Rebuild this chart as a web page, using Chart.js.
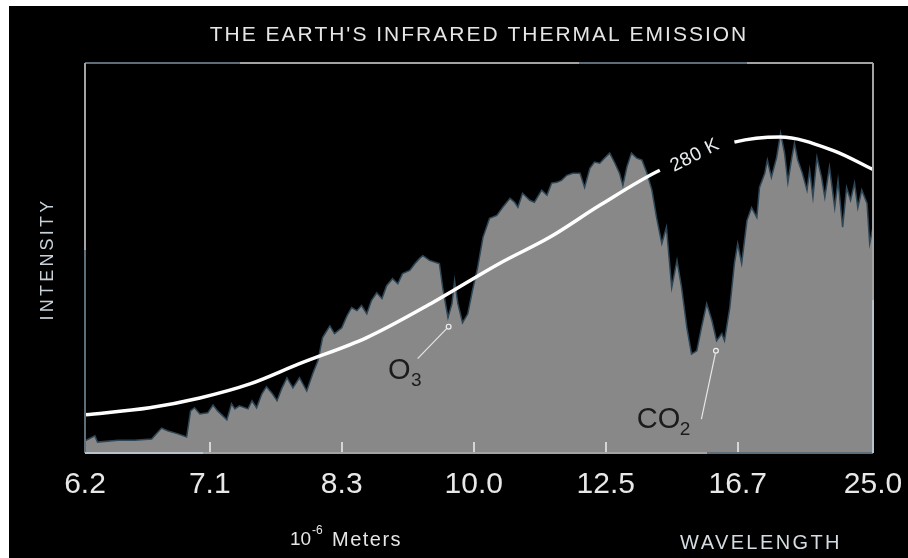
<!DOCTYPE html>
<html>
<head>
<meta charset="utf-8">
<script src="https://cdn.jsdelivr.net/npm/chart.js@4.4.0/dist/chart.umd.min.js"></script>
<style>
  html, body { margin: 0; padding: 0; background: #fff; }
  canvas { display: block; }
</style>
</head>
<body>
<canvas id="chart" width="908" height="558"></canvas>
<script>
// x axis is linear in wavenumber (cm^-1), labelled in wavelength (micrometres)
const tickWavenumbers = [1589, 1400, 1200, 1000, 800, 600, 395];
const tickLabels = ['6.2', '7.1', '8.3', '10.0', '12.5', '16.7', '25.0'];

const specWavenumber = [
  1589, 1574, 1570, 1539, 1514, 1488, 1473, 1464, 1448, 1435, 1429, 1423, 1415, 1403, 1395, 1388,
  1374, 1367, 1362, 1355, 1342, 1336, 1329, 1321, 1314, 1306, 1298, 1291, 1283, 1274, 1264, 1253,
  1244, 1236, 1229, 1218, 1211, 1200, 1192, 1185, 1177, 1170, 1162, 1155, 1147, 1139, 1132, 1123,
  1115, 1108, 1097, 1089, 1082, 1077, 1067, 1056, 1052, 1047, 1039, 1033, 1029, 1024, 1017, 1009,
  1002, 994, 986, 976, 965, 956, 945, 938, 933, 926, 915, 908, 897, 889, 882, 874,
  867, 859, 850, 839, 832, 824, 817, 809, 802, 794, 786, 779, 774, 768, 761, 753,
  745, 738, 730, 723, 715, 708, 700, 692, 685, 677, 670, 662, 655, 647, 639, 632,
  624, 620, 612, 605, 600, 594, 586, 579, 571, 567, 559, 555, 549, 541, 535, 529,
  524, 518, 514, 509, 502, 495, 491, 486, 480, 473, 468, 461, 453, 448, 441, 435,
  429, 423, 418, 412, 404, 400, 395
];
const specIntensity = [
  3.1, 4.4, 2.8, 3.3, 3.3, 3.6, 6.4, 5.7, 4.9, 4.1, 10.8, 11.6, 10.0, 10.3, 12.3, 10.8,
  8.5, 12.6, 11.3, 12.1, 11.3, 13.4, 11.6, 15.2, 17.0, 15.4, 13.4, 16.5, 19.3, 16.7, 19.3, 15.9,
  20.3, 23.7, 29.6, 32.6, 30.6, 32.1, 35.2, 37.3, 36.5, 37.8, 35.7, 39.1, 41.1, 39.6, 42.9, 44.7,
  43.4, 46.0, 46.8, 48.6, 49.9, 50.6, 49.4, 48.8, 48.6, 42.4, 34.7, 38.3, 44.2, 38.3, 33.4, 35.7,
  41.6, 47.6, 55.3, 60.2, 60.9, 63.0, 65.3, 64.3, 63.0, 66.6, 64.8, 64.3, 67.4, 66.1, 69.2, 69.4,
  69.9, 71.2, 71.7, 71.7, 68.1, 73.0, 74.6, 74.3, 75.6, 76.9, 74.3, 71.7, 68.6, 73.3, 76.9, 75.6,
  75.1, 72.0, 67.4, 60.4, 53.7, 57.9, 42.4, 49.4, 42.4, 32.1, 25.4, 26.2, 32.1, 38.3, 33.9, 28.8,
  30.6, 28.8, 37.3, 48.6, 53.7, 48.6, 59.6, 62.9, 60.4, 68.1, 71.7, 75.1, 70.7, 75.8, 82.0, 76.9,
  69.4, 75.8, 79.4, 75.1, 71.7, 67.4, 72.5, 65.6, 75.8, 70.7, 65.6, 73.3, 62.9, 69.9, 57.9, 68.1,
  64.8, 69.2, 62.9, 67.4, 64.0, 53.7, 57.9
];

// 280 K blackbody curve
const curveWavenumber = [1589, 1491, 1415, 1339, 1264, 1162, 1062, 961, 885, 809, 718, 605, 536, 456, 395];
const curveIntensity  = [9.8, 11.6, 14.1, 17.7, 22.9, 29.6, 38.6, 48.6, 55.3, 63.5, 72.5, 79.7, 81.0, 77.6, 72.7];
const curveGap = [605, 718]; // where the "280 K" label sits

const toPoints = (xs, ys) => xs.map((x, i) => ({ x: x, y: ys[i] }));

function drawText(ctx, txt, x, y, font, color, align, spacing) {
  ctx.font = font;
  ctx.fillStyle = color;
  ctx.textAlign = align || 'left';
  ctx.letterSpacing = (spacing || 0) + 'px';
  ctx.fillText(txt, x, y);
  ctx.letterSpacing = '0px';
}

const decorations = {
  id: 'decorations',
  beforeDraw(chart) {
    const ctx = chart.ctx;
    ctx.save();
    ctx.fillStyle = '#fff';
    ctx.fillRect(0, 0, chart.width, chart.height);
    ctx.fillStyle = '#000';
    ctx.fillRect(9, 6, chart.width - 9, chart.height - 6);
    ctx.restore();
  },
  afterDatasetsDraw(chart) {
    const ctx = chart.ctx;
    const a = chart.chartArea;
    const xs = chart.scales.x, ys = chart.scales.y;
    const blue = '#5d6d79', gray = '#a3a3a3', light = '#b9c3cb';
    ctx.save();
    ctx.lineWidth = 2;
    const seg = (x1, y1, x2, y2, c) => {
      ctx.strokeStyle = c;
      ctx.beginPath(); ctx.moveTo(x1, y1); ctx.lineTo(x2, y2); ctx.stroke();
    };
    // frame
    seg(a.left, a.top, 240, a.top, blue);
    seg(240, a.top, 579, a.top, gray);
    seg(579, a.top, 747, a.top, blue);
    seg(747, a.top, a.right, a.top, gray);
    seg(a.left, a.top, a.left, 250, gray);
    seg(a.left, 250, a.left, a.bottom, blue);
    seg(a.left, a.bottom, 203, a.bottom, light);
    seg(203, a.bottom, 707, a.bottom, gray);
    seg(707, a.bottom, a.right, a.bottom, blue);
    seg(a.right, a.top, a.right, 300, gray);
    seg(a.right, 300, a.right, a.bottom, light);

    // inner tick marks
    tickWavenumbers.slice(1, -1).forEach(v => {
      const px = Math.round(xs.getPixelForValue(v));
      seg(px, a.bottom - 1, px, a.bottom - 11, '#d6d6d6');
    });

    // O3 / CO2 annotations
    ctx.lineWidth = 1.2;
    const o3dot = [xs.getPixelForValue(1038), ys.getPixelForValue(32.4)];
    seg(xs.getPixelForValue(1085), ys.getPixelForValue(24.2), o3dot[0] - 2, o3dot[1] + 2, '#e6e6e6');
    const co2dot = [xs.getPixelForValue(633), ys.getPixelForValue(26.2)];
    seg(xs.getPixelForValue(655), ys.getPixelForValue(8.7), co2dot[0] - 0.5, co2dot[1] + 2.5, '#e6e6e6');
    [o3dot, co2dot].forEach(p => {
      ctx.beginPath();
      ctx.arc(p[0], p[1], 2.4, 0, Math.PI * 2);
      ctx.fillStyle = '#888';
      ctx.fill();
      ctx.strokeStyle = '#f0f0f0';
      ctx.stroke();
    });

    ctx.textBaseline = 'alphabetic';
    const fam = '"Liberation Sans", Arial, sans-serif';
    const ox = xs.getPixelForValue(1130), oy = ys.getPixelForValue(19.0);
    drawText(ctx, 'O', ox, oy, '29px ' + fam, '#1b1b1b');
    drawText(ctx, '3', ox + 23, oy + 7, '19px ' + fam, '#1b1b1b');
    const cx = xs.getPixelForValue(753), cy = ys.getPixelForValue(6.4);
    drawText(ctx, 'CO', cx, cy, '29px ' + fam, '#1b1b1b');
    drawText(ctx, '2', cx + 43, cy + 7, '19px ' + fam, '#1b1b1b');

    // 280 K label
    ctx.save();
    ctx.translate(xs.getPixelForValue(665), ys.getPixelForValue(76.3));
    ctx.rotate(-27 * Math.PI / 180);
    ctx.textBaseline = 'middle';
    drawText(ctx, '280 K', 0, 0, '19px ' + fam, '#e8eef2', 'center', 0.5);
    ctx.restore();

    // titles
    ctx.textBaseline = 'middle';
    drawText(ctx, "THE EARTH'S INFRARED THERMAL EMISSION", 479, 35, '21px ' + fam, '#e6e6e6', 'center', 2.0);
    drawText(ctx, '10', 290, 540, '19px ' + fam, '#e6e6e6', 'left');
    drawText(ctx, '-6', 312, 531, '12px ' + fam, '#e6e6e6', 'left');
    drawText(ctx, 'Meters', 332, 540, '20px ' + fam, '#e6e6e6', 'left', 1.5);
    drawText(ctx, 'WAVELENGTH', 761, 543, '20px ' + fam, '#d4dbe1', 'center', 2.4);

    ctx.save();
    ctx.translate(48, 259);
    ctx.rotate(-Math.PI / 2);
    drawText(ctx, 'INTENSITY', 0, 0, '18px ' + fam, '#c9d1d8', 'center', 3.2);
    ctx.restore();
    ctx.restore();
  }
};

new Chart(document.getElementById('chart'), {
  type: 'line',
  data: {
    datasets: [
      {
        label: '280 K',
        data: toPoints(curveWavenumber, curveIntensity),
        borderColor: '#ffffff',
        borderWidth: 3.5,
        pointRadius: 0,
        fill: false,
        cubicInterpolationMode: 'monotone',
        order: 0,
        segment: {
          borderColor: c => (c.p0.parsed.x <= curveGap[1] && c.p1.parsed.x >= curveGap[0]) ? 'rgba(0,0,0,0)' : '#ffffff'
        }
      },
      {
        label: 'Spectrum',
        data: toPoints(specWavenumber, specIntensity),
        borderColor: '#2e4656',
        borderWidth: 1.5,
        backgroundColor: '#888888',
        pointRadius: 0,
        tension: 0,
        fill: 'origin',
        order: 1
      }
    ]
  },
  options: {
    responsive: false,
    animation: false,
    devicePixelRatio: 1,
    layout: { padding: { left: 85, right: 35, top: 63, bottom: 41 } },
    plugins: {
      legend: { display: false },
      tooltip: { enabled: false },
      title: { display: false }
    },
    scales: {
      x: {
        type: 'linear',
        reverse: true,
        min: 395,
        max: 1589,
        grid: { display: false, drawTicks: false },
        border: { display: false },
        afterBuildTicks: s => { s.ticks = tickWavenumbers.map(v => ({ value: v })); },
        afterFit: s => { s.paddingLeft = 0; s.paddingRight = 0; },
        ticks: {
          autoSkip: false,
          maxRotation: 0,
          padding: 14,
          color: '#e8e8e8',
          font: { family: '"Liberation Sans", Arial, sans-serif', size: 30 },
          callback: (v, i) => tickLabels[i]
        }
      },
      y: {
        display: false,
        min: 0,
        max: 100
      }
    }
  },
  plugins: [decorations]
});
</script>
</body>
</html>
